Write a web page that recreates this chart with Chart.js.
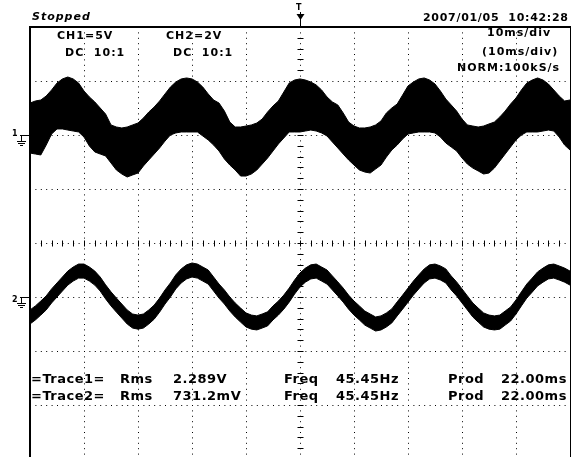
<!DOCTYPE html>
<html>
<head>
<meta charset="utf-8">
<script src="https://cdn.jsdelivr.net/npm/chart.js@4/dist/chart.umd.min.js"></script>
<style>
  html, body { margin: 0; padding: 0; background: #fff; overflow: hidden; }
  #wrap { position: relative; width: 581px; height: 457px; overflow: hidden; }
  #scope { position: absolute; left: 0; top: 0; }
  .t { position: absolute; white-space: pre; line-height: 1; color: #000;
       font-family: "DejaVu Sans", sans-serif; font-weight: bold; font-size: 11px; }
  .hd { letter-spacing: 1px; }
  .meas { font-size: 13px; letter-spacing: 0.5px; }
</style>
</head>
<body>
<div id="wrap">
  <canvas id="scope" width="581" height="470"></canvas>

  <div class="t hd" style="left:32px; top:11px; font-style:italic;">Stopped</div>
  <div class="t" style="left:296px; top:4px; font-size:8px;">T</div>
  <div class="t" style="left:423px; top:12px; letter-spacing:0.7px;">2007/01/05  10:42:28</div>

  <div class="t hd" style="left:57px; top:30px;">CH1=5V</div>
  <div class="t hd" style="left:65px; top:47px;">DC  10:1</div>
  <div class="t hd" style="left:166px; top:30px;">CH2=2V</div>
  <div class="t hd" style="left:173px; top:47px;">DC  10:1</div>

  <div class="t hd" style="left:487px; top:27px;">10ms/div</div>
  <div class="t hd" style="left:482px; top:46px;">(10ms/div)</div>
  <div class="t hd" style="left:457px; top:62px;">NORM:100kS/s</div>

  <div class="t" style="left:12px; top:130px; font-size:8px;">1</div>
  <div class="t" style="left:12px; top:296px; font-size:8px;">2</div>

  <div class="t meas" style="left:31px; top:372px;">=Trace1=</div>
  <div class="t meas" style="left:120px; top:372px;">Rms</div>
  <div class="t meas" style="left:173px; top:372px;">2.289V</div>
  <div class="t meas" style="left:284px; top:372px;">Freq</div>
  <div class="t meas" style="left:336px; top:372px;">45.45Hz</div>
  <div class="t meas" style="left:448px; top:372px;">Prod</div>
  <div class="t meas" style="left:501px; top:372px;">22.00ms</div>

  <div class="t meas" style="left:31px; top:389px;">=Trace2=</div>
  <div class="t meas" style="left:120px; top:389px;">Rms</div>
  <div class="t meas" style="left:173px; top:389px;">731.2mV</div>
  <div class="t meas" style="left:284px; top:389px;">Freq</div>
  <div class="t meas" style="left:336px; top:389px;">45.45Hz</div>
  <div class="t meas" style="left:448px; top:389px;">Prod</div>
  <div class="t meas" style="left:501px; top:389px;">22.00ms</div>
</div>

<script>
// time base: 10 ms/div, 10 div across, one sample read every 1 ms
const sampleStepMs = 1;
const sweepMs = 100;
const triggerMs = 50;

// CH1 (5 V/div) noisy band, upper and lower edge in volts
const ch1Hi = [
  2.96, 3.15, 3.24, 3.61, 4.17, 4.81, 5.19, 5.37, 5.19, 4.81,
  4.07, 3.52, 3.06, 2.50, 1.94, 0.93, 0.74, 0.65, 0.74, 0.93,
  1.11, 1.57, 2.13, 2.59, 3.15, 3.80, 4.44, 4.91, 5.19, 5.28,
  5.19, 4.91, 4.44, 3.80, 3.24, 2.96, 2.22, 1.20, 0.74, 0.74,
  0.83, 0.93, 1.11, 1.48, 2.13, 2.69, 3.15, 3.98, 4.81, 5.09,
  5.19, 5.09, 4.91, 4.63, 4.17, 3.52, 3.06, 2.78, 2.04, 1.20,
  0.83, 0.65, 0.65, 0.74, 0.93, 1.30, 2.04, 2.50, 2.87, 3.70,
  4.54, 4.91, 5.19, 5.28, 5.09, 4.72, 4.07, 3.33, 2.78, 2.22,
  1.48, 0.93, 0.83, 0.74, 0.83, 1.02, 1.20, 1.67, 2.22, 2.87,
  3.43, 4.17, 4.81, 5.09, 5.28, 5.09, 4.72, 4.17, 3.61, 3.15,
  3.24
];
const ch1Lo = [
  -1.67, -1.76, -1.85, -0.93, 0.09, 0.56, 0.56, 0.46, 0.37, 0.28,
  -0.19, -1.02, -1.57, -1.76, -1.94, -2.59, -3.24, -3.61, -3.89, -3.70,
  -3.52, -2.87, -2.31, -1.76, -1.20, -0.56, 0.00, 0.19, 0.28, 0.28,
  0.28, 0.28, -0.09, -0.46, -0.93, -1.48, -2.22, -2.78, -3.24, -3.80,
  -3.80, -3.61, -3.24, -2.69, -2.13, -1.48, -0.83, -0.28, 0.28, 0.28,
  0.28, 0.37, 0.46, 0.37, 0.19, -0.09, -0.65, -1.20, -1.76, -2.31,
  -2.78, -3.24, -3.43, -3.52, -3.15, -2.78, -2.04, -1.39, -0.93, -0.37,
  0.09, 0.19, 0.28, 0.28, 0.28, 0.19, -0.19, -0.74, -1.11, -1.48,
  -2.13, -2.69, -3.06, -3.33, -3.61, -3.52, -3.06, -2.41, -1.76, -1.11,
  -0.46, 0.00, 0.28, 0.28, 0.28, 0.37, 0.46, 0.37, -0.19, -0.93,
  -1.39
];

// CH2 (2 V/div) band, upper and lower edge in volts
const ch2Hi = [
  -0.48, -0.33, -0.15, 0.04, 0.30, 0.52, 0.74, 0.96, 1.11, 1.22,
  1.22, 1.11, 0.96, 0.74, 0.45, 0.19, -0.04, -0.26, -0.48, -0.63,
  -0.67, -0.63, -0.48, -0.30, -0.04, 0.26, 0.52, 0.82, 1.04, 1.19,
  1.26, 1.22, 1.11, 1.00, 0.74, 0.48, 0.26, 0.00, -0.22, -0.41,
  -0.59, -0.67, -0.70, -0.63, -0.55, -0.33, -0.15, 0.07, 0.33, 0.63,
  0.89, 1.07, 1.19, 1.22, 1.11, 1.00, 0.78, 0.56, 0.33, 0.07,
  -0.15, -0.33, -0.52, -0.63, -0.74, -0.70, -0.59, -0.44, -0.18, 0.07,
  0.33, 0.59, 0.82, 1.04, 1.19, 1.22, 1.15, 1.04, 0.78, 0.56,
  0.30, 0.04, -0.22, -0.41, -0.59, -0.67, -0.70, -0.67, -0.52, -0.37,
  -0.11, 0.19, 0.48, 0.70, 0.93, 1.07, 1.19, 1.22, 1.15, 1.07,
  0.96
];
const ch2Lo = [
  -1.00, -0.85, -0.67, -0.48, -0.22, 0.00, 0.22, 0.44, 0.59, 0.70,
  0.70, 0.59, 0.44, 0.22, -0.07, -0.33, -0.56, -0.78, -1.00, -1.15,
  -1.19, -1.15, -1.00, -0.82, -0.56, -0.26, 0.00, 0.30, 0.52, 0.67,
  0.74, 0.70, 0.59, 0.48, 0.22, -0.04, -0.26, -0.52, -0.74, -0.93,
  -1.11, -1.19, -1.22, -1.15, -1.07, -0.85, -0.67, -0.45, -0.19, 0.11,
  0.37, 0.55, 0.67, 0.70, 0.59, 0.48, 0.26, 0.04, -0.19, -0.45,
  -0.67, -0.85, -1.04, -1.15, -1.26, -1.22, -1.11, -0.96, -0.70, -0.45,
  -0.19, 0.07, 0.30, 0.52, 0.67, 0.70, 0.63, 0.52, 0.26, 0.04,
  -0.22, -0.48, -0.74, -0.93, -1.11, -1.19, -1.22, -1.19, -1.04, -0.89,
  -0.63, -0.33, -0.04, 0.18, 0.41, 0.55, 0.67, 0.70, 0.63, 0.55,
  0.44
];

// screen ranges: 8 div tall; CH1 ground 2 div above centre, CH2 ground 1 div below
const ch1Range = [-30, 10];   // 5 V/div
const ch2Range = [-6, 10];    // 2 V/div
const ch1CentreV = -10;

function toPoints(arr) {
  return arr.map((v, i) => ({ x: i * sampleStepMs, y: v }));
}

const scopeDecor = {
  id: 'scopeDecor',
  beforeDatasetsDraw(chart) {
    const { ctx, chartArea: a, scales: { x, y } } = chart;
    const cx = Math.round(x.getPixelForValue(triggerMs)) + 0.5;
    const cy = Math.round(y.getPixelForValue(ch1CentreV)) + 0.5;
    ctx.save();
    ctx.strokeStyle = '#000';
    ctx.lineWidth = 1;
    ctx.beginPath();
    // small ticks every 1/5 div along the centre lines
    for (let t = 0; t <= sweepMs; t += 2) {
      const px = Math.round(x.getPixelForValue(t)) + 0.5;
      ctx.moveTo(px, cy - 3); ctx.lineTo(px, cy + 3);
    }
    for (let v = ch1Range[0]; v <= ch1Range[1]; v += 1) {
      const py = Math.round(y.getPixelForValue(v)) + 0.5;
      ctx.moveTo(cx - 3, py); ctx.lineTo(cx + 3, py);
    }
    ctx.stroke();
    ctx.restore();
  },
  afterDatasetsDraw(chart) {
    const { ctx, chartArea: a, scales: { x, y, y2 } } = chart;
    ctx.save();
    ctx.fillStyle = '#000';
    // frame
    ctx.fillRect(a.left - 1, a.top - 1, 2, a.bottom - a.top + 2);
    ctx.fillRect(a.left - 1, a.top - 1, a.right - a.left + 2, 2);
    ctx.fillRect(a.right, a.top - 1, 1, a.bottom - a.top + 2);

    // ground markers
    ctx.strokeStyle = '#000';
    ctx.lineWidth = 1;
    [y.getPixelForValue(0), y2.getPixelForValue(0)].forEach(p => {
      const g = Math.round(p) + 0.5;
      ctx.beginPath();
      ctx.moveTo(20, g); ctx.lineTo(a.left - 1, g);
      ctx.moveTo(21.5, g); ctx.lineTo(21.5, g + 6);
      ctx.moveTo(17, g + 6); ctx.lineTo(26, g + 6);
      ctx.moveTo(18, g + 8); ctx.lineTo(25, g + 8);
      ctx.moveTo(20, g + 10); ctx.lineTo(23, g + 10);
      ctx.stroke();
    });

    // trigger position arrow
    const tx = Math.round(x.getPixelForValue(triggerMs)) + 0.5;
    ctx.beginPath();
    ctx.moveTo(tx - 4, 14); ctx.lineTo(tx + 4, 14); ctx.lineTo(tx, 20);
    ctx.closePath();
    ctx.fill();
    ctx.beginPath();
    ctx.moveTo(tx, 12); ctx.lineTo(tx, a.top);
    ctx.stroke();
    ctx.restore();
  }
};

const band = (data, axis, fill) => ({
  data: toPoints(data),
  yAxisID: axis,
  borderColor: '#000',
  backgroundColor: '#000',
  borderWidth: 1,
  pointRadius: 0,
  tension: 0,
  fill: fill
});

new Chart(document.getElementById('scope'), {
  type: 'line',
  data: {
    datasets: [
      band(ch1Lo, 'y', false),
      band(ch1Hi, 'y', '-1'),
      band(ch2Lo, 'y2', false),
      band(ch2Hi, 'y2', '-1')
    ]
  },
  options: {
    responsive: false,
    animation: false,
    layout: { padding: { left: 30, right: 11, top: 27, bottom: 11 } },
    plugins: { legend: { display: false }, tooltip: { enabled: false } },
    scales: {
      x: {
        type: 'linear',
        min: 0,
        max: sweepMs,
        ticks: { display: false, stepSize: 10 },
        grid: { color: '#000', lineWidth: 1, drawTicks: false },
        border: { display: false, dash: [1, 4.4] }
      },
      y: {
        min: ch1Range[0],
        max: ch1Range[1],
        ticks: { display: false, stepSize: 5 },
        grid: { color: '#000', lineWidth: 1, drawTicks: false },
        border: { display: false, dash: [1, 4.4] }
      },
      y2: {
        display: false,
        min: ch2Range[0],
        max: ch2Range[1]
      }
    }
  },
  plugins: [scopeDecor]
});
</script>
</body>
</html>
